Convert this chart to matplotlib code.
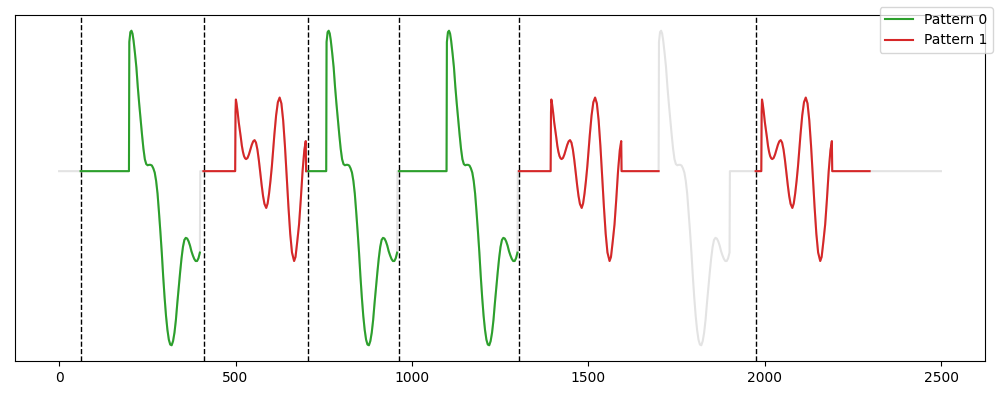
import numpy as np
import matplotlib
matplotlib.use("Agg")
import matplotlib.pyplot as plt

# ---- data ----
series_length = 2500

# pattern 0 shape: offsets from pattern start and values
p0_t = [0, 3, 6, 9, 12, 16, 20, 24, 28, 32, 36, 40, 44, 48, 52, 56, 60, 64, 68,
        72, 76, 80, 84, 88, 92, 96, 100, 104, 108, 112, 116, 120, 124, 128, 132,
        136, 140, 144, 148, 152, 156, 160, 164, 168, 172, 176, 180, 184, 188,
        192, 196, 200]
p0_v = [0.92, 0.99, 1.00, 0.98, 0.93, 0.84, 0.74, 0.60, 0.48, 0.37, 0.26, 0.16,
        0.085, 0.05, 0.042, 0.045, 0.045, 0.04, 0.02,
        -0.01, -0.07, -0.16, -0.29, -0.43, -0.58, -0.75, -0.90, -1.03, -1.13,
        -1.20, -1.235, -1.24, -1.21, -1.15, -1.06,
        -0.94, -0.83, -0.72, -0.62, -0.54, -0.49, -0.475, -0.48, -0.50, -0.53,
        -0.57, -0.60, -0.625, -0.64, -0.64, -0.62, -0.58]

# pattern 1 shape
p1_t = [0, 1, 3, 6, 9, 12, 15, 18, 21, 24, 27, 30, 34, 38, 42, 46, 50, 54, 58,
        62, 66, 70, 74, 78, 82, 87, 91, 95, 99, 103, 106, 110, 115, 120, 125,
        130, 135, 140, 145, 150, 155, 160, 166, 170, 175, 180, 185, 190, 195,
        199]
p1_v = [0.42, 0.51, 0.48, 0.42, 0.35, 0.295, 0.24, 0.18, 0.138, 0.108, 0.092,
        0.086, 0.094, 0.119, 0.153, 0.187, 0.212, 0.221, 0.203,
        0.154, 0.08, -0.008, -0.098, -0.177, -0.233, -0.262, -0.23, -0.16,
        -0.07, 0.035, 0.13, 0.258, 0.397, 0.491, 0.524,
        0.482, 0.362, 0.181, -0.036, -0.255, -0.446, -0.579, -0.64, -0.611,
        -0.50, -0.38, -0.20, 0.0, 0.15, 0.214]

p0_starts = [199, 758, 1099, 1700]
p1_starts = [500, 1394, 1991]

pattern0_segments = [(61, 399), (702, 958), (963, 1299)]
pattern1_segments = [(409, 700), (1303, 1699), (1974, 2297)]
boundaries = [63, 410, 705, 964, 1304, 1975]

# ---- build the series from the pieces ----
pieces = []
for s in p0_starts:
    pieces.append((s, p0_t, p0_v))
for s in p1_starts:
    pieces.append((s, p1_t, p1_v))
pieces.sort(key=lambda p: p[0])

xs = [0]
ys = [0.0]
for s, tt, vv in pieces:
    xs.append(s - 1); ys.append(0.0)
    for t, v in zip(tt, vv):
        xs.append(s + t); ys.append(v)
    xs.append(s + tt[-1] + 1); ys.append(0.0)
xs.append(series_length - 1); ys.append(0.0)
xs = np.array(xs, dtype=float)
ys = np.array(ys, dtype=float)


def segment(a, b):
    m = (xs >= a) & (xs <= b)
    sx = list(xs[m]); sy = list(ys[m])
    if not sx or sx[0] != a:
        sx.insert(0, a); sy.insert(0, 0.0)
    if sx[-1] != b:
        sx.append(b); sy.append(0.0)
    return sx, sy


fig = plt.figure(figsize=(10, 4), dpi=100)
ax = fig.add_axes([0.015, 0.0975, 0.97, 0.865])

ax.plot(xs, ys, color="#e3e3e3", lw=1.5, zorder=1)

h0 = h1 = None
for a, b in pattern0_segments:
    sx, sy = segment(a, b)
    ln, = ax.plot(sx, sy, color="#2ca02c", lw=1.5, zorder=2)
    h0 = h0 or ln
for a, b in pattern1_segments:
    sx, sy = segment(a, b)
    ln, = ax.plot(sx, sy, color="#d62728", lw=1.5, zorder=2)
    h1 = h1 or ln

for bx in boundaries:
    ax.axvline(bx, color="black", ls="--", lw=1, zorder=3)

ax.set_yticks([])
ax.set_xticks([0, 500, 1000, 1500, 2000, 2500])

fig.legend([h0, h1], ["Pattern 0", "Pattern 1"], loc="upper right")

fig.savefig("out.png", dpi=100)
